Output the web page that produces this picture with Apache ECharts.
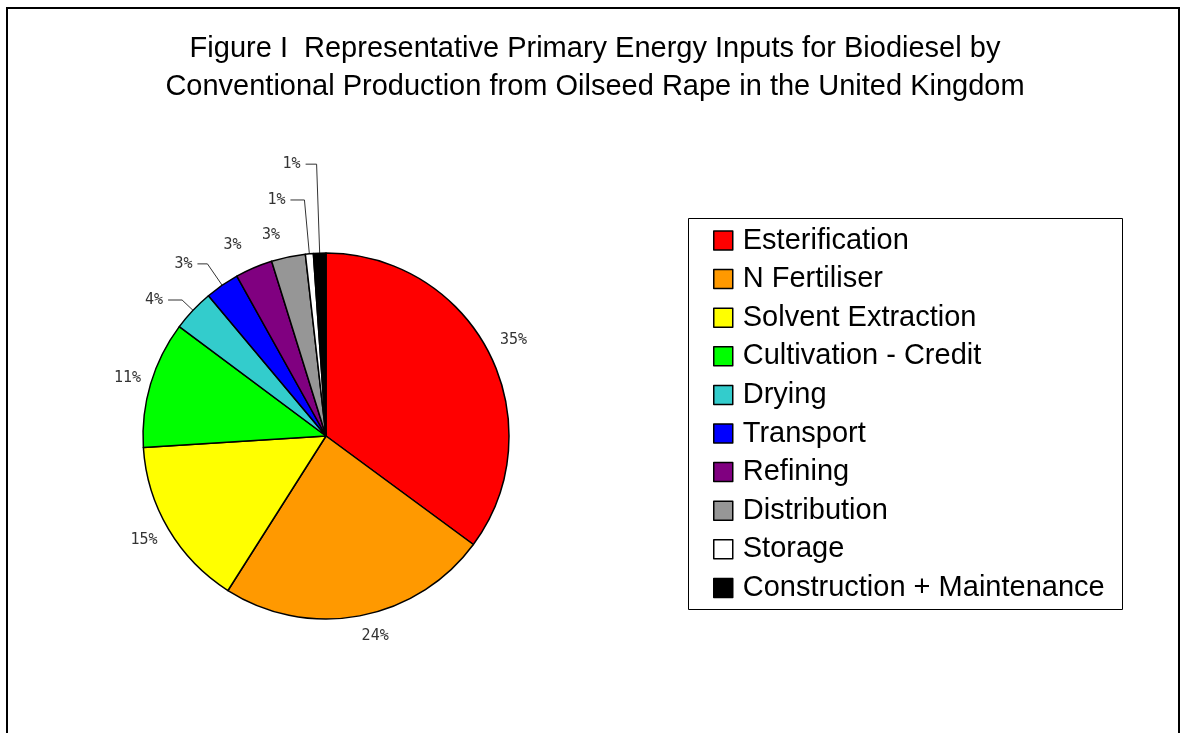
<!DOCTYPE html>
<html>
<head>
<meta charset="utf-8">
<script src="https://cdn.jsdelivr.net/npm/echarts@6/dist/echarts.min.js"></script>
<style>
html,body{margin:0;padding:0;background:#fff;}
#chart{width:1181px;height:733px;}
</style>
</head>
<body>
<div id="chart"></div>
<script>
const titleLines = ['Figure I  Representative Primary Energy Inputs for Biodiesel by',
                    'Conventional Production from Oilseed Rape in the United Kingdom'];
const categories = ['Esterification','N Fertiliser','Solvent Extraction','Cultivation - Credit','Drying','Transport','Refining','Distribution','Storage','Construction + Maintenance'];
const values = [35.1, 23.9, 15.0, 11.2, 3.7, 3.0, 3.3, 3.0, 0.7, 1.1];
const colors = ['#FF0000','#FF9900','#FFFF00','#00FF00','#33CCCC','#0000FF','#800080','#969696','#FFFFFF','#000000'];
// label leader lines: [show, length, length2]
const leaders = [[false,26,0],[false,24,0],[false,26,0],[false,24,0],[true,15,14],[true,26,10],[false,29,0],[false,26,0],[true,54,14],[true,89,11]];
// small label nudges (style): [dx, dy]
const labelNudge = [[1,-2],[11,-3],[-2,-2],[0,1],[0,0],[0,0],[-10,4],[-12,4],[0,0],[0,0]];

const chart = echarts.init(document.getElementById('chart'));
const data = categories.map((c, i) => ({
  name: c,
  value: values[i],
  itemStyle: { color: colors[i] },
  labelLine: { show: leaders[i][0], length: leaders[i][1], length2: leaders[i][2] }
}));

chart.setOption({
  animation: false,
  title: {
    text: titleLines.join('\n'),
    left: 590, top: 25, textAlign: 'center',
    textStyle: { fontFamily: 'Liberation Sans', fontSize: 29, fontWeight: 'normal', color: '#000', lineHeight: 38 }
  },
  graphic: [
    { type: 'rect', shape: { x: 7, y: 8, width: 1172, height: 800 }, style: { fill: 'none', stroke: '#000', lineWidth: 2 }, silent: true },
    { type: 'rect', shape: { x: 688.5, y: 218.5, width: 434, height: 391 }, style: { fill: 'none', stroke: '#000', lineWidth: 1 }, silent: true }
  ],
  legend: {
    orient: 'vertical',
    left: 713, top: 226,
    itemWidth: 19, itemHeight: 19, itemGap: 9.6,
    icon: 'rect',
    padding: 0,
    itemStyle: { borderColor: '#000', borderWidth: 1.5 },
    textStyle: { fontFamily: 'Liberation Sans', fontSize: 29, color: '#000', lineHeight: 28, padding: [0,0,0,5] },
    data: categories
  },
  series: [{
    type: 'pie',
    center: [326, 436],
    radius: 183,
    startAngle: 90,
    clockwise: true,
    avoidLabelOverlap: false,
    data: data,
    itemStyle: { borderColor: '#000', borderWidth: 1.5 },
    label: {
      show: true,
      position: 'outside',
      formatter: p => Math.round(p.value) + '%',
      fontFamily: 'DejaVu Sans Mono',
      fontSize: 15,
      color: '#333',
      distanceToLabelLine: 5
    },
    labelLine: { lineStyle: { color: '#333', width: 1 }, smooth: false },
    labelLayout: function (p) {
      if (leaders[p.dataIndex][0]) return {};
      const r = p.labelRect;
      const n = labelNudge[p.dataIndex];
      const cx = p.align === 'right' ? r.x + r.width + 5 : r.x - 5;
      return { x: cx + n[0], y: r.y + r.height / 2 + n[1], align: 'center', verticalAlign: 'middle' };
    },
    emphasis: { disabled: true }
  }]
});
</script>
</body>
</html>
